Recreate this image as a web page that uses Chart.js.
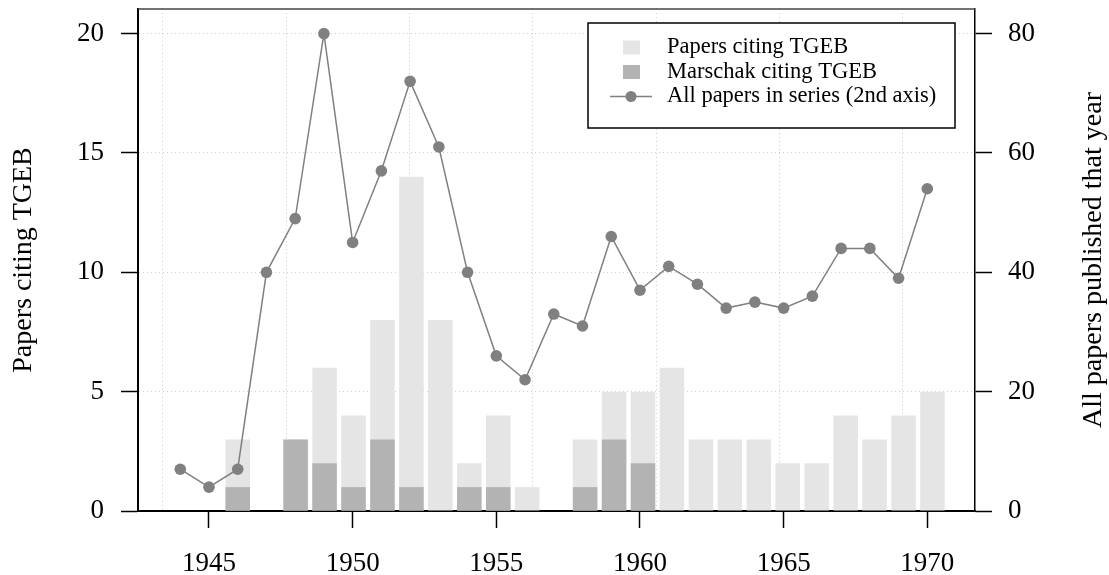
<!DOCTYPE html>
<html><head><meta charset="utf-8">
<script src="https://cdn.jsdelivr.net/npm/chart.js@4"></script>
<style>html,body{margin:0;padding:0;background:#fff}#wrap{width:1109px;height:575px}</style>
</head><body><div id="wrap"><canvas id="c" width="1109" height="575"></canvas></div>
<script>
const years = [1944,1945,1946,1947,1948,1949,1950,1951,1952,1953,1954,1955,1956,1957,1958,1959,1960,1961,1962,1963,1964,1965,1966,1967,1968,1969,1970];
const papersCiting = [0,0,3,0,3,6,4,8,14,8,2,4,1,0,3,5,5,6,3,3,3,2,2,4,3,4,5];
const marschakCiting = [0,0,1,0,3,2,1,3,1,0,1,1,0,0,1,3,2,0,0,0,0,0,0,0,0,0,0];
const allPapers = [7,4,7,40,49,80,45,57,72,61,40,26,22,33,31,46,37,41,38,34,35,34,36,44,44,39,54];
const xTickYears = [1945,1950,1955,1960,1965,1970];
const leftTicks = [0,5,10,15,20];
const rightTicks = [0,20,40,60,80];
const gridYears = [1943.40,1947.69,1951.98,1956.27,1960.56,1964.85,1969.14];
const seriesLabels = ['Papers citing TGEB','Marschak citing TGEB','All papers in series (2nd axis)'];
const leftTitle = 'Papers citing TGEB';
const rightTitle = 'All papers published that year';

const SERIF = "'Liberation Serif','DejaVu Serif',serif";
const LIGHT = '#e5e5e5', DARK = '#b3b3b3', LINE = '#808080';

const fixTicks = vals => s => { s.ticks = vals.map(v => ({value: v})); };
const noPad = s => { s.paddingTop = 0; s.paddingBottom = 0; s.paddingLeft = 0; s.paddingRight = 0; };

const decor = {
  id: 'decor',
  afterDatasetsDraw(chart) {
    const ctx = chart.ctx, a = chart.chartArea;
    ctx.save();
    ctx.strokeStyle = '#444'; ctx.lineWidth = 1.5;
    ctx.beginPath(); ctx.moveTo(a.left, a.top); ctx.lineTo(a.right, a.top); ctx.stroke();
    const L = 588, T = 23, R = 955, B = 128;
    ctx.fillStyle = '#fff'; ctx.fillRect(L, T, R - L, B - T);
    ctx.strokeStyle = '#000'; ctx.lineWidth = 1.5; ctx.strokeRect(L, T, R - L, B - T);
    const rows = [47.5, 72, 96.5];
    ctx.font = '22.5px ' + SERIF; ctx.textBaseline = 'middle'; ctx.textAlign = 'left';
    const ds = chart.data.datasets;
    ctx.fillStyle = ds[0].backgroundColor; ctx.fillRect(623, rows[0] - 7, 17, 14);
    ctx.fillStyle = ds[1].backgroundColor; ctx.fillRect(623, rows[1] - 7, 17, 14);
    ctx.strokeStyle = ds[2].borderColor; ctx.lineWidth = 1.5;
    ctx.beginPath(); ctx.moveTo(610, rows[2]); ctx.lineTo(652, rows[2]); ctx.stroke();
    ctx.fillStyle = ds[2].pointBackgroundColor;
    ctx.beginPath(); ctx.arc(631, rows[2], 5.5, 0, Math.PI * 2); ctx.fill();
    ctx.fillStyle = '#000';
    ds.forEach((d, i) => ctx.fillText(d.label, 667, rows[i]));
    const cy = (a.top + a.bottom) / 2;
    ctx.font = '28px ' + SERIF; ctx.textAlign = 'center'; ctx.textBaseline = 'alphabetic';
    [[31, leftTitle], [1101, rightTitle]].forEach(([tx, t]) => {
      ctx.save(); ctx.translate(tx, cy); ctx.rotate(-Math.PI / 2); ctx.fillText(t, 0, 0); ctx.restore();
    });
    ctx.restore();
  }
};

new Chart(document.getElementById('c'), {
  type: 'bar',
  data: {
    datasets: [
      { label: seriesLabels[0], data: years.map((y, i) => ({x: y, y: papersCiting[i]})),
        backgroundColor: LIGHT, borderWidth: 0, xAxisID: 'xb', yAxisID: 'y', grouped: false,
        categoryPercentage: 1, barPercentage: 0.847, order: 2 },
      { label: seriesLabels[1], data: years.map((y, i) => ({x: y, y: marschakCiting[i]})),
        backgroundColor: DARK, borderWidth: 0, xAxisID: 'xb', yAxisID: 'y', grouped: false,
        categoryPercentage: 1, barPercentage: 0.847, order: 1 },
      { type: 'line', label: seriesLabels[2], data: years.map((y, i) => ({x: y, y: allPapers[i]})),
        borderColor: LINE, borderWidth: 1.5, pointBackgroundColor: LINE, pointBorderWidth: 0,
        pointRadius: 5.8, xAxisID: 'x', yAxisID: 'y2', order: 0, tension: 0 }
    ]
  },
  options: {
    responsive: false, animation: false,
    layout: { padding: { top: 9, left: 0, right: 0, bottom: 0 } },
    plugins: { legend: { display: false }, tooltip: { enabled: false } },
    scales: {
      x: { type: 'linear', position: 'bottom', min: 1942.53, max: 1971.66, offset: false,
        afterBuildTicks: fixTicks(xTickYears),
        afterFit: s => { s.height = 64; noPad(s); },
        grid: { offset: false, drawOnChartArea: false, drawTicks: true, tickLength: 17, tickColor: '#000', tickWidth: 1.5 },
        border: { display: true, color: '#000', width: 2 },
        ticks: { font: { family: SERIF, size: 27 }, color: '#000', padding: 20, maxRotation: 0, autoSkip: false,
          callback: v => String(v) } },
      xg: { type: 'linear', position: 'top', min: 1942.53, max: 1971.66, offset: false,
        afterBuildTicks: fixTicks(gridYears),
        afterFit: s => { s.height = 0; noPad(s); },
        grid: { offset: false, drawOnChartArea: true, drawTicks: false, color: '#cfcfcf', lineWidth: 1 },
        border: { display: false, dash: [1, 3] },
        ticks: { display: false } },
      xb: { type: 'linear', display: false, min: 1942.555, max: 1971.469, offset: false, grid: { offset: false } },
      y: { type: 'linear', position: 'left', min: 0, max: 21.03,
        afterBuildTicks: fixTicks(leftTicks),
        afterFit: s => { s.width = 138; noPad(s); },
        grid: { drawOnChartArea: true, color: '#cfcfcf', lineWidth: 1, tickLength: 17, tickColor: '#000', tickWidth: 1.5, tickBorderDash: [] },
        border: { display: true, color: '#000', width: 2, dash: [1, 3] },
        ticks: { font: { family: SERIF, size: 27 }, color: '#000', padding: 17, callback: v => String(v) } },
      y2: { type: 'linear', position: 'right', min: 0, max: 84.12,
        afterBuildTicks: fixTicks(rightTicks),
        afterFit: s => { s.width = 134; noPad(s); },
        grid: { drawOnChartArea: false, tickLength: 17, tickColor: '#000', tickWidth: 1.5 },
        border: { display: true, color: '#000', width: 1.5 },
        ticks: { font: { family: SERIF, size: 27 }, color: '#000', padding: 16, callback: v => String(v) } }
    }
  },
  plugins: [decor]
});
</script></body></html>
